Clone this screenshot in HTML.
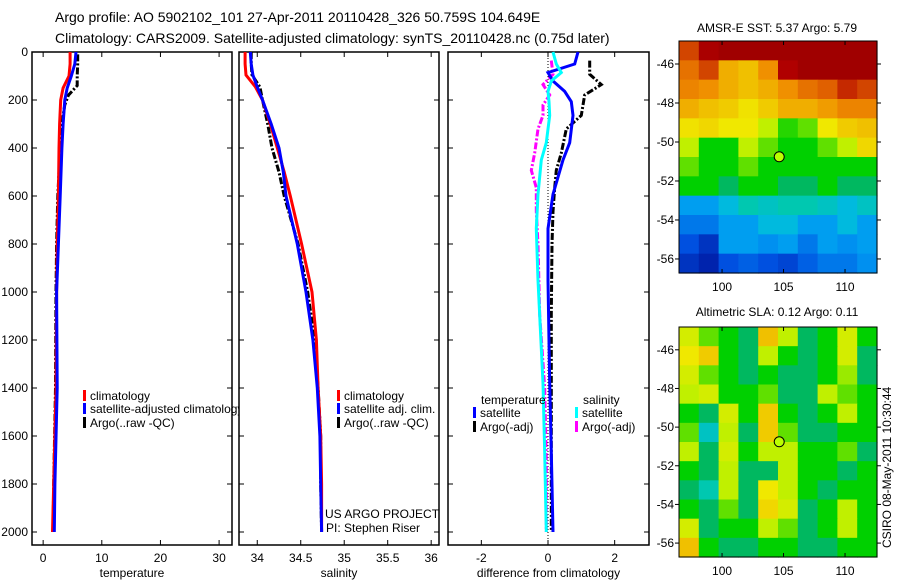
<!DOCTYPE html>
<html><head><meta charset="utf-8"><style>
body{margin:0;background:#fff}
svg{display:block;font-family:"Liberation Sans",sans-serif}
</style></head><body>
<svg id="s" width="900" height="580" viewBox="0 0 900 580">
<text x="55" y="22" font-size="14">Argo profile: AO 5902102_101 27-Apr-2011 20110428_326 50.759S 104.649E</text>
<text x="55" y="43" font-size="14">Climatology: CARS2009. Satellite-adjusted climatology: synTS_20110428.nc (0.75d later)</text>
<text x="777" y="32" font-size="12" text-anchor="middle">AMSR-E SST: 5.37 Argo: 5.79</text>
<text x="777" y="316" font-size="12" text-anchor="middle">Altimetric SLA: 0.12 Argo: 0.11</text>
<text transform="translate(891,548) rotate(-90)" font-size="12">CSIRO 08-May-2011 10:30:44</text>
<g id="g"></g>
</svg>
<script>
// ---- depth profile data ----
const tDepth=[0,50,100,150,200,300,400,600,800,1000,1400,1800,2000];
const tClim=[4.6,4.6,4.4,3.4,3.0,2.8,2.7,2.6,2.4,2.3,2.2,1.8,1.6];
const tSat=[5.6,5.4,4.8,4.1,3.7,3.4,3.2,2.9,2.6,2.3,2.4,2.0,1.9];
const tArgoDepth=[10,50,100,140,180,220,300,400,600,800,1000,1400,1800,2000];
const tArgo=[5.9,5.9,5.8,5.8,4.3,3.7,3.2,2.9,2.5,2.3,2.2,2.1,1.8,1.7];
const sDepth=[0,50,96,146,200,300,400,500,600,800,1000,1200,1400,1600,1800,2000];
const sClim=[33.86,33.86,33.87,33.98,34.06,34.15,34.23,34.31,34.38,34.51,34.63,34.68,34.70,34.73,34.74,34.74];
const sSat=[33.92,33.93,33.95,34.0,34.06,34.16,34.25,34.30,34.33,34.46,34.56,34.64,34.69,34.72,34.73,34.74];
const sArgo=[33.93,33.93,33.94,34.03,34.06,34.12,34.17,34.25,34.31,34.47,34.58,34.66,34.70,34.73,34.73,34.74];
const dDepth=[0,50,86,121,164,207,264,378,450,593,736,951,1381,1668,2000];
const dTempSat=[0.9,0.8,0.0,0.15,0.5,0.7,0.75,0.65,0.45,0.15,0.0,0.0,0.05,0.1,0.15];
const dSalSat=[0.15,0.25,0.4,0.1,0.0,0.03,0.05,-0.05,-0.2,-0.3,-0.35,-0.3,-0.15,-0.1,-0.05];
const dADepth=[36,93,136,179,221,264,321,421,493,565,665,800,1095,1400,1700,2000];
const dTempArgo=[1.25,1.25,1.6,1.1,1.05,1.0,0.55,0.4,0.25,0.2,0.15,0.12,0.1,0.1,0.1,0.1];
const dSalArgo=[0.1,0.15,-0.15,0.05,-0.15,-0.15,-0.3,-0.4,-0.5,-0.35,-0.35,-0.3,-0.25,-0.1,-0.05,-0.05];
const depthTicks=[0,200,400,600,800,1000,1200,1400,1600,1800,2000];
const tTicks=[0,10,20,30], sTicks=[34,34.5,35,35.5,36], dTicks=[-2,0,2];
// ---- map data (colormap fraction) ----
const sstGrid=[
[0.9,0.97,1,1,1,1,1,1,1,1],
[0.85,0.9,0.75,0.72,0.8,0.95,1,1,1,1],
[0.82,0.8,0.75,0.72,0.75,0.8,0.85,0.88,0.92,0.9],
[0.75,0.72,0.7,0.66,0.7,0.75,0.75,0.78,0.82,0.82],
[0.66,0.68,0.65,0.65,0.6,0.52,0.55,0.65,0.7,0.72],
[0.6,0.5,0.5,0.6,0.55,0.5,0.5,0.55,0.6,0.68],
[0.55,0.5,0.5,0.55,0.5,0.5,0.5,0.5,0.5,0.5],
[0.5,0.5,0.45,0.5,0.5,0.45,0.45,0.5,0.45,0.45],
[0.3,0.3,0.35,0.4,0.38,0.4,0.4,0.38,0.35,0.38],
[0.25,0.25,0.3,0.3,0.35,0.35,0.3,0.3,0.35,0.3],
[0.2,0.15,0.3,0.3,0.28,0.3,0.25,0.3,0.28,0.3],
[0.15,0.12,0.2,0.22,0.2,0.18,0.22,0.25,0.25,0.28]];
const slaGrid=[
[0.62,0.55,0.5,0.45,0.72,0.6,0.45,0.5,0.62,0.5],
[0.65,0.7,0.5,0.45,0.6,0.5,0.45,0.5,0.62,0.45],
[0.62,0.55,0.5,0.45,0.5,0.45,0.45,0.5,0.58,0.45],
[0.6,0.62,0.5,0.5,0.55,0.45,0.45,0.6,0.55,0.5],
[0.5,0.45,0.62,0.5,0.7,0.5,0.45,0.5,0.6,0.5],
[0.55,0.38,0.6,0.45,0.7,0.55,0.45,0.45,0.5,0.5],
[0.6,0.45,0.62,0.5,0.6,0.6,0.5,0.5,0.55,0.45],
[0.5,0.45,0.6,0.45,0.45,0.6,0.5,0.5,0.45,0.5],
[0.45,0.4,0.6,0.45,0.65,0.6,0.5,0.45,0.5,0.5],
[0.5,0.45,0.55,0.45,0.68,0.62,0.45,0.5,0.6,0.5],
[0.62,0.45,0.5,0.5,0.6,0.55,0.45,0.5,0.6,0.5],
[0.72,0.5,0.45,0.45,0.5,0.5,0.45,0.45,0.5,0.5]];
const lonTicks=[100,105,110], latTicks=[-46,-48,-50,-52,-54,-56];
const floatLon=104.649, floatLat=-50.759;

const NS='http://www.w3.org/2000/svg', G=document.getElementById('g');
function mk(t,a,p){const e=document.createElementNS(NS,t);for(const k in a)e.setAttribute(k,a[k]);(p||G).appendChild(e);return e;}
const Y=d=>52+0.24*d, YB=545;
function panel(name,x0,x1,v0,v1,ticks,label,showY){
  const X=v=>x0+(v-v0)/(v1-v0)*(x1-x0);
  const g=mk('g',{});
  
  
  const r=mk('rect',{x:x0,y:52,width:x1-x0,height:YB-52,fill:'none',stroke:'#000','stroke-width':1.5},g);
  
  
  ticks.forEach(v=>{const x=X(v);
    mk('line',{x1:x,x2:x,y1:YB,y2:YB-5,stroke:'#000'},g);mk('line',{x1:x,x2:x,y1:52,y2:57,stroke:'#000'},g);
    const t=mk('text',{x:x,y:YB+17,'font-size':12,'text-anchor':'middle'},g);t.textContent=v;
    
    });
  depthTicks.forEach(d=>{const y=Y(d);
    mk('line',{x1:x0,x2:x0+5,y1:y,y2:y,stroke:'#000'},g);mk('line',{x1:x1,x2:x1-5,y1:y,y2:y,stroke:'#000'},g);
    if(showY){const t=mk('text',{x:x0-4,y:y+4,'font-size':12,'text-anchor':'end'},g);t.textContent=d;
      
      }});
  const t=mk('text',{x:(x0+x1)/2,y:YB+32,'font-size':12,'text-anchor':'middle'},g);t.textContent=label;
  
  
  return X;
}
function line(X,vals,depths,col,dash,name){
  const pts=vals.map((v,i)=>X(v).toFixed(1)+','+Y(depths[i]).toFixed(1)).join(' ');
  const p=mk('polyline',{points:pts,fill:'none',stroke:col,'stroke-width':3});
  if(dash)p.setAttribute('stroke-dasharray',dash);
  
  
}
function leg(x,y,col,txt){
  const r=mk('rect',{x:x,y:y-10,width:3,height:11,fill:col});
  
  
  const t=mk('text',{x:x+7,y:y,'font-size':12});t.textContent=txt;
  
  
}
mk('clipPath',{id:'c1'});mk('rect',{x:32,y:52,width:207,height:493},G.lastChild);
const X1=panel('temperature-panel',32,232,-1.9,32.2,tTicks,'temperature',true);
line(X1,tArgo,tArgoDepth,'#000','7,2,2,2','temp-argo-line');
line(X1,tClim,tDepth,'#f00',null,'temp-climatology-line');
line(X1,tSat,tDepth,'#00f',null,'temp-satellite-line');
const lg=mk('g',{'clip-path':'url(#c1)'});
[['#f00','climatology',400],['#00f','satellite-adjusted climatology',413],['#000','Argo(..raw -QC)',427]].forEach(a=>{
  const r=mk('rect',{x:83,y:a[2]-10,width:3,height:11,fill:a[0]},lg);
  
  
  const t=mk('text',{x:90,y:a[2],'font-size':12},lg);t.textContent=a[1];
  
  });
const X2=panel('salinity-panel',239,439,33.79,36.09,sTicks,'salinity',false);
line(X2,sArgo,sDepth,'#000','7,2,2,2','sal-argo-line');
line(X2,sClim,sDepth,'#f00',null,'sal-climatology-line');
line(X2,sSat,sDepth,'#00f',null,'sal-satellite-line');
leg(337,400,'#f00','climatology');leg(337,413,'#00f','satellite adj. clim.');leg(337,427,'#000','Argo(..raw -QC)');
let t=mk('text',{x:325,y:518,'font-size':12});t.textContent='US ARGO PROJECT';


t=mk('text',{x:326,y:532,'font-size':12});t.textContent='PI: Stephen Riser';


const X3=panel('difference-panel',448,649,-3,3.03,dTicks,'difference from climatology',false);
mk('line',{x1:X3(0),x2:X3(0),y1:52,y2:YB,stroke:'#000','stroke-dasharray':'1,2'});
line(X3,dTempArgo,dADepth,'#000','7,2,2,2','diff-temp-argo-line');
line(X3,dSalArgo,dADepth,'#f0f','7,2,2,2','diff-sal-argo-line');
line(X3,dTempSat,dDepth,'#00f',null,'diff-temp-satellite-line');
line(X3,dSalSat,dDepth,'#0ff',null,'diff-sal-satellite-line');
t=mk('text',{x:481,y:404,'font-size':12});t.textContent='temperature';


t=mk('text',{x:583,y:404,'font-size':12});t.textContent='salinity';


leg(473,417,'#00f','satellite');leg(473,431,'#000','Argo(-adj)');
leg(575,417,'#0ff','satellite');leg(575,431,'#f0f','Argo(-adj)');

const cmapStops=[[0,[0,0,140]],[0.1,[0,24,160]],[0.2,[0,80,224]],[0.28,[0,144,240]],[0.33,[0,180,240]],[0.4,[0,200,176]],[0.45,[0,184,96]],[0.5,[0,208,0]],[0.6,[192,240,0]],[0.65,[240,232,0]],[0.72,[240,192,0]],[0.8,[240,144,0]],[0.88,[224,96,0]],[0.95,[176,0,0]],[1,[160,0,0]]];
function cmap(v){for(let i=1;i<cmapStops.length;i++){const a=cmapStops[i-1],b=cmapStops[i];
  if(v<=b[0]){const f=(v-a[0])/(b[0]-a[0]);return 'rgb('+a[1].map((c,k)=>Math.round(c+(b[1][k]-c)*f)).join(',')+')';}}
  return 'rgb(160,0,0)';}
function map(name,grid,top,bot){
  const x0=679,x1=877,lon0=96.5,lon1=112.6,lat0=-44.82,lat1=-56.72;
  const LX=v=>x0+(v-lon0)/(lon1-lon0)*(x1-x0), LY=v=>top+(v-lat0)/(lat1-lat0)*(bot-top);
  const g=mk('g',{});
  
  
  const nr=grid.length,nc=grid[0].length,cw=(x1-x0)/nc,ch=(bot-top)/nr;
  grid.forEach((row,i)=>row.forEach((v,j)=>{
    const c=mk('rect',{x:x0+j*cw,y:top+i*ch,width:cw+0.6,height:ch+0.6,fill:cmap(v)},g);
    
    }));
  mk('rect',{x:x0,y:top,width:x1-x0,height:bot-top,fill:'none',stroke:'#000'},g);
  lonTicks.forEach(v=>{const x=LX(v);mk('line',{x1:x,x2:x,y1:bot,y2:bot-4,stroke:'#000'},g);mk('line',{x1:x,x2:x,y1:top,y2:top+4,stroke:'#000'},g);
    const t=mk('text',{x:x,y:bot+18,'font-size':12,'text-anchor':'middle'},g);t.textContent=v;
    
    });
  latTicks.forEach(v=>{const y=LY(v);mk('line',{x1:x0,x2:x0-4,y1:y,y2:y,stroke:'#000'},g);mk('line',{x1:x1,x2:x1+4,y1:y,y2:y,stroke:'#000'},g);
    const t=mk('text',{x:x0-5,y:y+4,'font-size':12,'text-anchor':'end'},g);t.textContent=v;
    
    });
  const m=mk('ellipse',{cx:LX(floatLon),cy:LY(floatLat),rx:5,ry:5,fill:'#bf0',stroke:'#000','stroke-width':1},g);
  
  
}
map('sst-map',sstGrid,41,273);
map('sla-map',slaGrid,327,557);
</script>
</body></html>
